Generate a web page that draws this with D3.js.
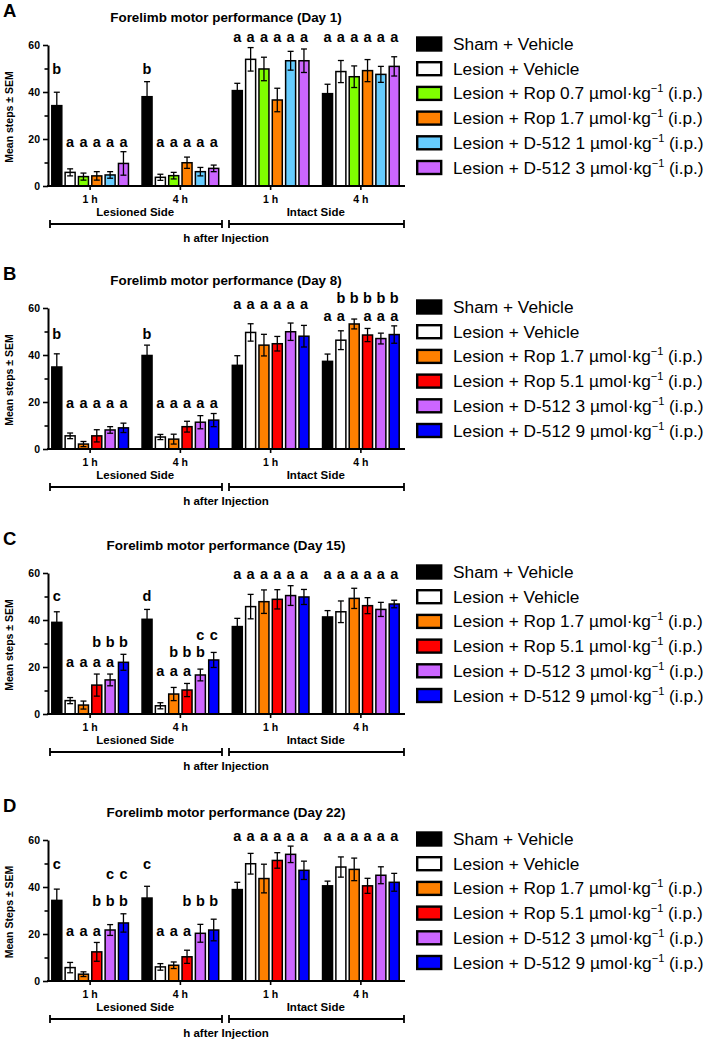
<!DOCTYPE html>
<html><head><meta charset="utf-8">
<script src="https://cdn.jsdelivr.net/npm/d3@7"></script>
<style>body{margin:0;background:#fff;} svg{display:block;font-family:"Liberation Sans",Arial,Helvetica,sans-serif;}</style>
</head><body><svg id="c" width="709" height="1042"></svg>
<script>
// ---------- data ----------
const groupTicks = ["1 h", "4 h", "1 h", "4 h"];
const sides = ["Lesioned Side", "Intact Side"];
const yTicks = [0, 10, 20, 30, 40, 50, 60];
const xTitle = "h after Injection";

const legendA = ["Sham + Vehicle", "Lesion + Vehicle",
  "Lesion + Rop 0.7 µmol·kg|−1| (i.p.)", "Lesion + Rop 1.7 µmol·kg|−1| (i.p.)",
  "Lesion + D-512 1 µmol·kg|−1| (i.p.)", "Lesion + D-512 3 µmol·kg|−1| (i.p.)"];
const colorsA = ["#000000", "#ffffff", "#80ff00", "#ff8000", "#66ccff", "#cc66ff"];
const legendBCD = ["Sham + Vehicle", "Lesion + Vehicle",
  "Lesion + Rop 1.7 µmol·kg|−1| (i.p.)", "Lesion + Rop 5.1 µmol·kg|−1| (i.p.)",
  "Lesion + D-512 3 µmol·kg|−1| (i.p.)", "Lesion + D-512 9 µmol·kg|−1| (i.p.)"];
const colorsBCD = ["#000000", "#ffffff", "#ff8000", "#ff0000", "#cc66ff", "#0000ff"];

// means / SEM per series (rows) across groups [Les 1h, Les 4h, Int 1h, Int 4h]
const meansA = [[34.2, 38.0, 40.6, 39.3], [5.8, 3.7, 53.9, 48.7], [4.0, 4.4, 49.8, 46.5],
  [4.3, 9.9, 36.6, 49.1], [4.7, 6.1, 53.3, 47.5], [9.6, 7.5, 53.3, 50.9]];
const semsA = [[5.7, 6.4, 3.1, 4.0], [1.5, 1.3, 5.0, 4.7], [1.5, 1.4, 5.0, 4.6],
  [1.8, 2.4, 5.0, 4.7], [1.4, 1.8, 4.0, 3.4], [5.0, 1.4, 5.0, 4.1]];
const lettersA = [[["b-----", 47.5], ["-aaaaa", 16.8]], [["b-----", 47.5], ["-aaaaa", 16.8]],
  [["aaaaaa", 61.1]], [["aaaaaa", 61.1]]];

const meansB = [[34.9, 39.8, 35.6, 37.3], [5.6, 5.1, 49.6, 46.3], [2.1, 4.2, 44.2, 53.2],
  [5.6, 9.5, 44.8, 48.5], [8.1, 11.4, 49.9, 47.0], [9.0, 12.3, 48.0, 48.7]];
const semsB = [[5.6, 4.4, 4.1, 3.1], [1.2, 1.1, 3.7, 4.0], [1.1, 2.1, 4.6, 2.1],
  [2.6, 2.3, 3.1, 2.8], [1.4, 2.8, 3.7, 2.3], [2.0, 2.8, 4.6, 3.7]];
const lettersB = [[["b-----", 47], ["-aaaaa", 17.5]], [["b-----", 47], ["-aaaaa", 17.5]],
  [["aaaaaa", 59.6]], [["aa-aaa", 54.6], ["-bbbbb", 62]]];

const meansC = [[39.0, 40.3, 37.2, 41.3], [5.7, 3.5, 45.7, 43.5], [3.8, 8.5, 47.8, 49.2],
  [12.3, 10.2, 48.8, 46.1], [14.5, 16.6, 50.4, 44.5], [22.0, 23.0, 49.8, 46.8]];
const semsC = [[4.5, 4.2, 3.5, 2.7], [1.3, 1.3, 5.2, 4.6], [1.7, 2.8, 5.0, 4.3],
  [4.7, 2.8, 4.1, 3.4], [2.5, 2.5, 4.2, 3.0], [3.4, 3.2, 3.2, 1.6]];
const lettersC = [[["c-----", 48], ["-aaaa-", 20.1], ["---bbb", 28.6]],
  [["d-----", 48], ["-aaa--", 16.3], ["--bbb-", 24.4], ["----cc", 31.5]],
  [["aaaaaa", 57.4]], [["aaaaaa", 57.4]]];

const meansD = [[34.3, 35.3, 38.9, 40.5], [5.7, 6.0, 49.9, 48.5], [2.9, 6.7, 43.6, 47.5],
  [12.4, 10.3, 51.3, 40.5], [21.7, 20.3, 53.9, 45.0], [24.7, 21.7, 47.1, 42.0]];
const semsD = [[4.8, 5.0, 3.1, 2.0], [2.2, 1.4, 4.4, 4.3], [1.0, 1.4, 6.1, 4.8],
  [4.0, 2.8, 3.3, 3.2], [2.3, 3.8, 3.5, 3.6], [3.9, 4.6, 3.9, 3.8]];
const lettersD = [[["c-----", 47.6], ["-aaa--", 19], ["---bbb", 32.1], ["----cc", 43.6]],
  [["c-----", 47.6], ["-aaa--", 19], ["---bbb", 32.1]],
  [["aaaaaa", 59.7]], [["aaaaaa", 59.7]]];

const panels = [
  {id: "A", title: "Forelimb motor performance (Day 1)", ylab: "Mean steps ± SEM", legend: legendA, colors: colorsA, means: meansA, sems: semsA, letters: lettersA, top: 45},
  {id: "B", title: "Forelimb motor performance (Day 8)", ylab: "Mean steps ± SEM", legend: legendBCD, colors: colorsBCD, means: meansB, sems: semsB, letters: lettersB, top: 308},
  {id: "C", title: "Forelimb motor performance (Day 15)", ylab: "Mean steps ± SEM", legend: legendBCD, colors: colorsBCD, means: meansC, sems: semsC, letters: lettersC, top: 573},
  {id: "D", title: "Forelimb motor performance (Day 22)", ylab: "Mean Steps ± SEM", legend: legendBCD, colors: colorsBCD, means: meansD, sems: semsD, letters: lettersD, top: 840}
];

// ---------- drawing ----------
const svg = d3.select("#c");
svg.append("rect").attr("width", 709).attr("height", 1042).attr("fill", "#fff");
const x0 = d3.scaleBand().domain(d3.range(4)).range([45, 406]);
const x1 = d3.scaleBand().domain(d3.range(6)).range([0, x0.bandwidth()]).paddingInner(0.25).paddingOuter(0.51);
const PH = 141;

panels.forEach(p => {
  const y = d3.scaleLinear().domain([0, 60]).range([p.top + PH, p.top]);
  const y0 = y(0);
  const g = svg.append("g");

  g.append("text").attr("x", 3).attr("y", p.top - 28).attr("font-size", 18.5).attr("font-weight", "bold").text(p.id);
  g.append("text").attr("x", 226).attr("y", p.top - 23).attr("text-anchor", "middle")
    .attr("font-size", 13.4).attr("font-weight", "bold").text(p.title);

  // y-axis label
  g.append("text").attr("transform", `translate(13,${p.top + 72}) rotate(-90)`)
    .attr("text-anchor", "middle").attr("font-size", 10.5).attr("font-weight", "bold").text(p.ylab);

  // bars
  const cells = [];
  p.means.forEach((row, s) => row.forEach((v, gi) => cells.push({s, gi, v, e: p.sems[s][gi]})));
  g.selectAll("rect.bar").data(cells).join("rect").attr("class", "bar")
    .attr("x", d => x0(d.gi) + x1(d.s)).attr("y", d => y(d.v))
    .attr("width", x1.bandwidth()).attr("height", d => y0 - y(d.v))
    .attr("fill", d => p.colors[d.s]).attr("stroke", "#000").attr("stroke-width", 1.5);

  // error bars
  const eb = g.selectAll("g.err").data(cells).join("g").attr("class", "err")
    .attr("stroke", "#000").attr("stroke-width", 1.3);
  const cx = d => x0(d.gi) + x1(d.s) + x1.bandwidth() / 2;
  eb.append("line").attr("x1", cx).attr("x2", cx).attr("y1", d => y(d.v - d.e)).attr("y2", d => y(d.v + d.e));
  eb.append("line").attr("x1", d => cx(d) - 3).attr("x2", d => cx(d) + 3).attr("y1", d => y(d.v + d.e)).attr("y2", d => y(d.v + d.e));
  eb.append("line").attr("x1", d => cx(d) - 3).attr("x2", d => cx(d) + 3).attr("y1", d => y(d.v - d.e)).attr("y2", d => y(d.v - d.e));

  // significance letters
  const lets = [];
  p.letters.forEach((rows, gi) => rows.forEach(([pat, yv]) => {
    pat.split("").forEach((ch, s) => { if (ch !== "-") lets.push({gi, s, ch, yv}); });
  }));
  g.selectAll("text.let").data(lets).join("text").attr("class", "let")
    .attr("x", d => x0(d.gi) + x1(d.s) + x1.bandwidth() / 2).attr("y", d => y(d.yv))
    .attr("text-anchor", "middle").attr("font-size", 14.5).attr("font-weight", "bold").text(d => d.ch);

  // y axis
  const ya = g.append("g").attr("transform", "translate(48,0)")
    .call(d3.axisLeft(y).tickValues(yTicks).tickSize(5).tickSizeOuter(0).tickPadding(3)
      .tickFormat(d => d % 20 === 0 ? d : ""));
  ya.select(".domain").attr("stroke-width", 2);
  ya.selectAll(".tick line").attr("stroke-width", 1.6).filter(d => d % 20 !== 0).attr("x2", -3.5);
  ya.selectAll(".tick text").attr("font-size", 10.5).attr("font-weight", "bold").attr("font-family", null);

  // x axis
  const xa = g.append("g").attr("transform", `translate(0,${y0})`)
    .call(d3.axisBottom(x0).tickSize(4).tickSizeOuter(0).tickPadding(6).tickFormat(i => groupTicks[i]));
  xa.select(".domain").remove();
  xa.selectAll(".tick line").attr("stroke-width", 1.6);
  xa.selectAll(".tick text").attr("font-size", 10.5).attr("font-weight", "bold").attr("font-family", null);
  g.append("line").attr("x1", 47).attr("x2", 405).attr("y1", y0).attr("y2", y0).attr("stroke", "#000").attr("stroke-width", 2);

  // side labels and brackets
  sides.forEach((lab, i) => {
    const a = x0(2 * i), b = x0(2 * i + 1) + x0.bandwidth();
    g.append("text").attr("x", (a + b) / 2).attr("y", y0 + 30).attr("text-anchor", "middle")
      .attr("font-size", 11.5).attr("font-weight", "bold").text(lab);
    const l = i === 0 ? a + 5 : a + 3.5, r = i === 0 ? b - 3.5 : b - 2;
    const by = y0 + 38;
    g.append("path").attr("d", `M${l},${by - 4}V${by + 4}M${l},${by}H${r}M${r},${by - 4}V${by + 4}`)
      .attr("stroke", "#000").attr("stroke-width", 1.8).attr("fill", "none");
  });
  g.append("text").attr("x", 226).attr("y", y0 + 56).attr("text-anchor", "middle")
    .attr("font-size", 11.5).attr("font-weight", "bold").text(xTitle);

  // legend
  const lg = g.append("g").attr("transform", `translate(416,${p.top - 1})`);
  p.legend.forEach((lab, i) => {
    const iy = i * 24.7;
    lg.append("rect").attr("x", 1.2).attr("y", iy - 6.5).attr("width", 24).attr("height", 13)
      .attr("fill", p.colors[i]).attr("stroke", "#000").attr("stroke-width", 2.4);
    const t = lg.append("text").attr("x", 37).attr("y", iy + 6).attr("font-size", 17.3);
    lab.split("|").forEach((part, k) => {
      if (k % 2 === 1) {
        t.append("tspan").attr("font-size", 11).attr("dy", -7).text(part);
      } else {
        const ts = t.append("tspan").text(part);
        if (k > 0) ts.attr("dy", 7);
      }
    });
  });
});
</script></body></html>
